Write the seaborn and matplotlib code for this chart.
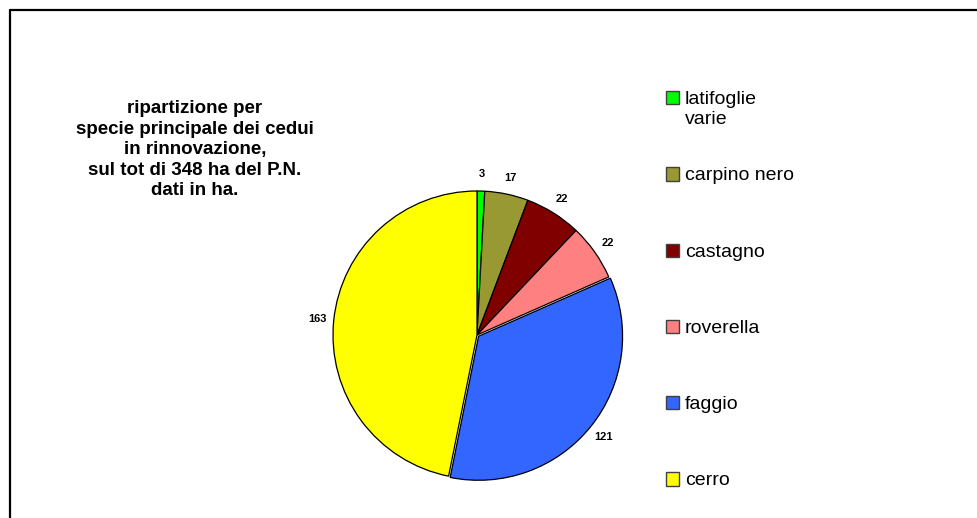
import matplotlib
matplotlib.use("Agg")
import matplotlib.pyplot as plt
from matplotlib.patches import Rectangle
from matplotlib.lines import Line2D
from matplotlib.legend_handler import HandlerPatch
import seaborn as sns

# dati
specie = ['latifoglie\nvarie', 'carpino nero\n', 'castagno\n', 'roverella\n', 'faggio\n', 'cerro\n']
ettari = [3, 17, 22, 22, 121, 163]
colori = ['#00ff00', '#999933', '#800000', '#ff8080', '#3366ff', '#ffff00']
titolo = 'ripartizione per\nspecie principale dei cedui\nin rinnovazione,\nsul tot di 348 ha del P.N.\ndati in ha.'

sns.set_style('white')
plt.rcParams['font.family'] = ['Liberation Sans', 'DejaVu Sans']
plt.rcParams['text.color'] = 'black'

W, H = 977, 518
fig = plt.figure(figsize=(W / 100, H / 100), dpi=100, facecolor='white')

# cornice (solo bordo alto e sinistro visibili)
fig.add_artist(Line2D([9.5 / W, 9.5 / W], [0, 1 - 9.5 / H], color='black', lw=1.6, transform=fig.transFigure))
fig.add_artist(Line2D([9.5 / W, 1], [1 - 9.5 / H, 1 - 9.5 / H], color='black', lw=1.6, transform=fig.transFigure))

# torta
cx, cy, r = 477, 335, 144
ax = fig.add_axes([(cx - r) / W, (H - cy - r) / H, 2 * r / W, 2 * r / H])
wedges, texts = ax.pie(ettari, labels=[str(v) for v in ettari], colors=colori,
                       startangle=90, counterclock=False, labeldistance=1.115,
                       explode=[0, 0, 0, 0, 0.014, 0],
                       wedgeprops=dict(edgecolor='black', linewidth=0.9),
                       textprops=dict(fontsize=8, fontweight='bold', color='black'))
for t in texts:
    t.set_ha('center')
    t.set_va('center')
ax.set_xlim(-1, 1)
ax.set_ylim(-1, 1)
ax.axis('off')

fig.text(195 / W, 1 - 100 / H, titolo, ha='center', va='top', fontsize=13.5,
         fontweight='bold', linespacing=1.27, color='black')


# handle allineato alla prima riga dell'etichetta
def quadrato(legend, orig_handle, xdescent, ydescent, width, height, fontsize):
    return Rectangle((-xdescent, -ydescent + 0.58 * fontsize), width, height)


hm = {w: HandlerPatch(patch_func=quadrato) for w in wedges}
leg = fig.legend(wedges, specie, loc='upper left', bbox_to_anchor=(666 / W, 1 - 91 / H),
                 frameon=False, fontsize=14, handlelength=0.67, handleheight=0.67,
                 handletextpad=0.3, labelspacing=2.04, borderpad=0, borderaxespad=0,
                 handler_map=hm, labelcolor='black')
for h in leg.legend_handles:
    h.set_edgecolor('#404040')
    h.set_linewidth(1.0)

fig.savefig('out.png', dpi=100, facecolor='white')
